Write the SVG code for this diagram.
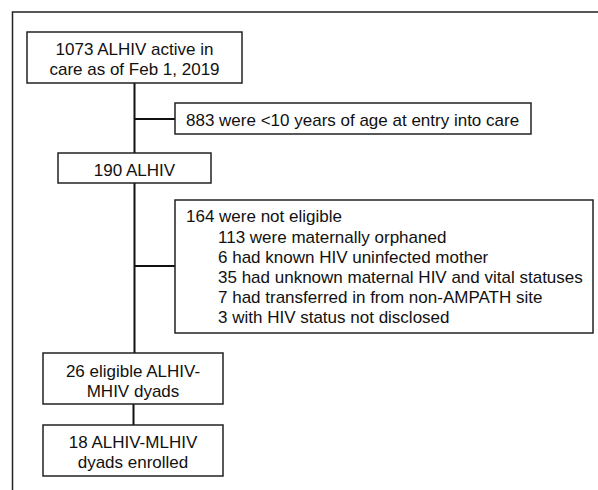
<svg xmlns="http://www.w3.org/2000/svg" width="598" height="490" viewBox="0 0 598 490">
<style>
.box{fill:#fff;stroke:#222;stroke-width:1.5}
.t{font-family:"Liberation Sans",Arial,sans-serif;font-size:17px;fill:#111}
.c{text-anchor:middle}
.ln{stroke:#111;stroke-width:2;fill:none}
</style>
<rect width="598" height="490" fill="#fff"/>
<path d="M12.5,490 V12 H598" fill="none" stroke="#222" stroke-width="1.5"/>
<g id="connectors">
<path class="ln" d="M134.5,83 V153 M134.5,183 V353 M133.5,404 V425 M134.5,119 H175 M134.5,266 H175"/>
</g>
<g id="n1"><rect class="box" x="27" y="32" width="215" height="51"/>
<text class="t c" x="134.5" y="55">1073 ALHIV active in</text>
<text class="t c" x="134.5" y="75">care as of Feb 1, 2019</text></g>
<g id="n2"><rect class="box" x="175" y="103" width="356" height="31"/>
<text class="t" x="186" y="125.5">883 were &lt;10 years of age at entry into care</text></g>
<g id="n3"><rect class="box" x="58" y="153" width="153" height="30"/>
<text class="t c" x="134.5" y="175.5">190 ALHIV</text></g>
<g id="n4"><rect class="box" x="175" y="200" width="418" height="133"/>
<text class="t" x="186" y="222">164 were not eligible</text>
<text class="t" x="218" y="242.5">113 were maternally orphaned</text>
<text class="t" x="218" y="263">6 had known HIV uninfected mother</text>
<text class="t" x="218" y="283">35 had unknown maternal HIV and vital statuses</text>
<text class="t" x="218" y="303">7 had transferred in from non-AMPATH site</text>
<text class="t" x="218" y="323">3 with HIV status not disclosed</text></g>
<g id="n5"><rect class="box" x="43" y="353" width="180" height="51"/>
<text class="t c" x="133" y="376.5">26 eligible ALHIV-</text>
<text class="t c" x="133" y="396.5">MHIV dyads</text></g>
<g id="n6"><rect class="box" x="43" y="425" width="180" height="51"/>
<text class="t c" x="133" y="448">18 ALHIV-MLHIV</text>
<text class="t c" x="133" y="468">dyads enrolled</text></g>
</svg>
